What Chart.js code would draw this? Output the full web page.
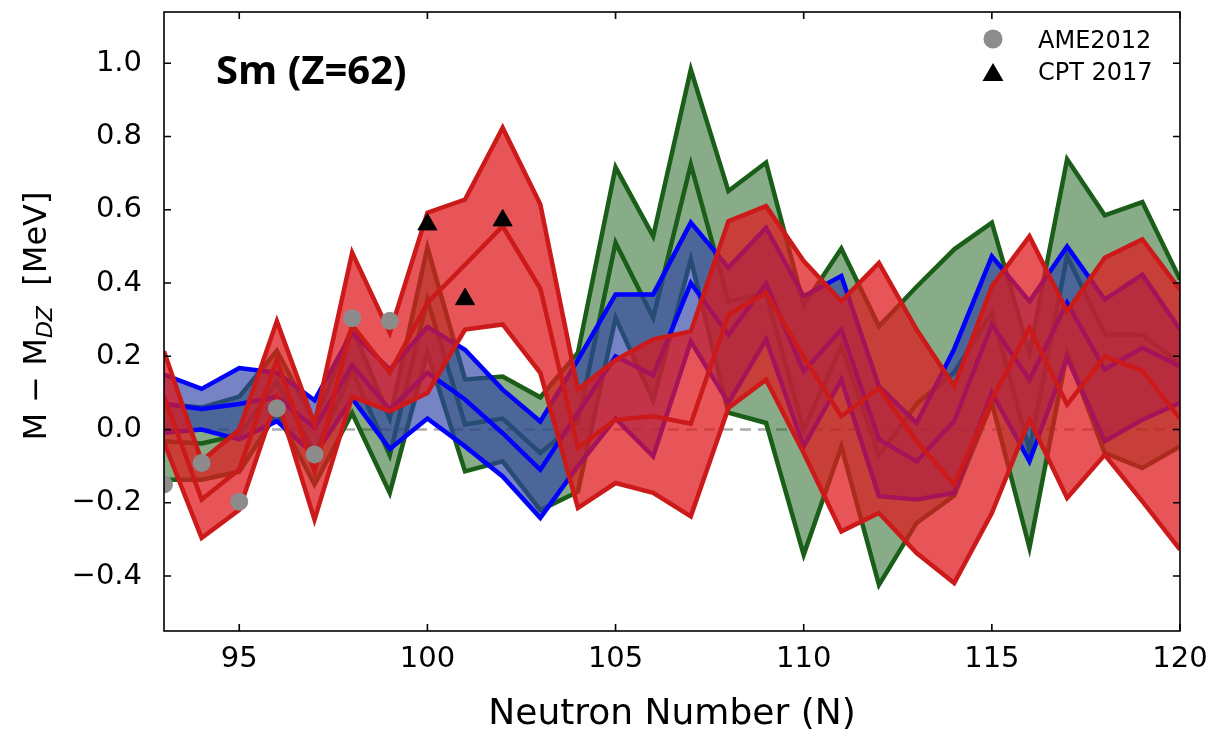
<!DOCTYPE html>
<html><head><meta charset="utf-8">
<script src="https://cdn.jsdelivr.net/npm/chart.js@4.4.1/dist/chart.umd.min.js"></script>
<style>html,body{margin:0;padding:0;background:#fff;overflow:hidden}</style>
</head><body>
<canvas id="c" width="1217" height="729"></canvas>
<script>
// ---- data ----
const N = [93,94,95,96,97,98,99,100,101,102,103,104,105,106,107,108,109,110,111,112,113,114,115,116,117,118,119,120];

const GREEN_UP  = [0.07, 0.06, 0.09, 0.215, 0.02, 0.28, 0.03, 0.497, 0.137, 0.145, 0.088, 0.21, 0.716, 0.528, 0.983, 0.651, 0.729, 0.34, 0.494, 0.282, 0.39, 0.492, 0.565, 0.209, 0.738, 0.585, 0.621, 0.41];
const GREEN_MID = [-0.032, -0.038, -0.015, 0.13, -0.065, 0.16, -0.07, 0.355, 0.014, 0.03, -0.064, 0.02, 0.51, 0.305, 0.724, 0.35, 0.37, 0.0, 0.228, -0.071, 0.07, 0.156, 0.319, -0.057, 0.474, 0.26, 0.258, 0.18];
const GREEN_LO  = [-0.137, -0.137, -0.115, 0.045, -0.15, 0.045, -0.173, 0.21, -0.114, -0.087, -0.22, -0.17, 0.305, 0.08, 0.465, 0.046, 0.018, -0.342, -0.046, -0.424, -0.255, -0.18, 0.073, -0.323, 0.21, -0.064, -0.105, -0.046];

const BLUE_UP  = [0.15, 0.111, 0.168, 0.155, 0.08, 0.265, 0.164, 0.28, 0.218, 0.109, 0.022, 0.19, 0.369, 0.369, 0.565, 0.442, 0.551, 0.364, 0.419, 0.118, 0.018, 0.22, 0.473, 0.35, 0.5, 0.355, 0.423, 0.273];
const BLUE_MID = [0.07, 0.056, 0.07, 0.089, 0.005, 0.175, 0.055, 0.155, 0.082, -0.01, -0.11, 0.045, 0.2, 0.148, 0.40, 0.258, 0.398, 0.159, 0.273, -0.027, -0.087, 0.023, 0.287, 0.136, 0.346, 0.164, 0.223, 0.173];
const BLUE_LO  = [-0.009, 0.0, -0.027, 0.023, -0.07, 0.085, -0.053, 0.03, -0.046, -0.128, -0.241, -0.1, 0.03, -0.073, 0.24, 0.073, 0.246, -0.046, 0.136, -0.182, -0.191, -0.173, 0.1, -0.087, 0.196, -0.032, 0.027, 0.073];

const RED_UP  = [0.214, -0.086, 0.0, 0.296, 0.015, 0.483, 0.264, 0.592, 0.628, 0.824, 0.615, 0.109, 0.19, 0.246, 0.268, 0.569, 0.61, 0.46, 0.35, 0.455, 0.273, 0.118, 0.391, 0.528, 0.323, 0.469, 0.519, 0.382];
const RED_MID = [0.09, -0.191, -0.109, 0.191, -0.115, 0.285, 0.155, 0.346, 0.45, 0.555, 0.385, -0.05, 0.027, 0.036, 0.016, 0.314, 0.373, 0.198, 0.036, 0.113, -0.032, -0.15, 0.082, 0.278, 0.068, 0.2, 0.16, 0.03];
const RED_LO  = [-0.035, -0.296, -0.219, 0.086, -0.246, 0.09, 0.05, 0.10, 0.273, 0.287, 0.155, -0.214, -0.146, -0.173, -0.237, 0.059, 0.136, -0.064, -0.278, -0.228, -0.337, -0.419, -0.228, 0.027, -0.187, -0.069, -0.196, -0.328];

const AME_N   = [93, 94, 95, 96, 97, 98, 99];
const AME_VAL = [-0.15, -0.091, -0.197, 0.058, -0.068, 0.304, 0.297];
const CPT_N   = [100, 101, 102];
const CPT_VAL = [0.56, 0.356, 0.571];

const X_TICKS = [95, 100, 105, 110, 115, 120];
const X_TICK_LABELS = ['95', '100', '105', '110', '115', '120'];
const Y_TICKS = [-0.4, -0.2, 0.0, 0.2, 0.4, 0.6, 0.8, 1.0];
const Y_TICK_LABELS = ['\u22120.4', '\u22120.2', '0.0', '0.2', '0.4', '0.6', '0.8', '1.0'];
const ZERO_REF = 0;

// ---- styles ----
const C_GREEN = '#1a5e1a', F_GREEN = 'rgba(26,94,26,0.52)';
const C_BLUE = '#0000ff',  F_BLUE = 'rgba(45,65,165,0.65)';
const C_RED = '#cc1a1a',   F_RED = 'rgba(222,25,30,0.74)';

const pts = (xs, ys) => xs.map((v, i) => ({x: v, y: ys[i]}));
function band(data, color, order, fillTarget, fillColor) {
  return {
    type: 'line', data: data, borderColor: color, borderWidth: 4.5, pointRadius: 0,
    tension: 0, order: order, clip: 0,
    fill: fillTarget === null ? false : fillTarget,
    backgroundColor: fillColor || 'rgba(0,0,0,0)'
  };
}

const datasets = [
  band(pts(N, RED_UP), C_RED, 1, null),          // 0
  band(pts(N, RED_MID), C_RED, 2, null),         // 1
  band(pts(N, RED_LO), C_RED, 3, 0, F_RED),      // 2
  band(pts(N, BLUE_UP), C_BLUE, 4, null),        // 3
  band(pts(N, BLUE_MID), C_BLUE, 5, null),       // 4
  band(pts(N, BLUE_LO), C_BLUE, 6, 3, F_BLUE),   // 5
  band(pts(N, GREEN_UP), C_GREEN, 7, null),      // 6
  band(pts(N, GREEN_MID), C_GREEN, 8, null),     // 7
  band(pts(N, GREEN_LO), C_GREEN, 9, 6, F_GREEN),// 8
  { type: 'scatter', label: 'AME2012', data: pts(AME_N, AME_VAL), pointRadius: 9, pointStyle: 'circle',
    backgroundColor: '#8c8c8c', borderColor: '#8c8c8c', borderWidth: 0, order: 0, clip: 0 },
  { type: 'scatter', label: 'CPT 2017', data: pts(CPT_N, CPT_VAL), pointRadius: 11, pointStyle: 'triangle',
    backgroundColor: '#000', borderColor: '#000', borderWidth: 1, order: 0, clip: 0 }
];

const decor = {
  id: 'decor',
  beforeDatasetsDraw(chart) {
    const {ctx, chartArea: a, scales: {y}} = chart;
    ctx.save();
    ctx.beginPath(); ctx.rect(a.left, a.top, a.right - a.left, a.bottom - a.top); ctx.clip();
    ctx.strokeStyle = '#ababab'; ctx.lineWidth = 2.5; ctx.setLineDash([11, 7]);
    const py = y.getPixelForValue(ZERO_REF);
    ctx.beginPath(); ctx.moveTo(a.left, py); ctx.lineTo(a.right, py); ctx.stroke();
    ctx.restore();
  },
  afterDraw(chart) {
    const {ctx, chartArea: a, scales: {x, y}} = chart;
    ctx.save();
    ctx.strokeStyle = '#000'; ctx.lineWidth = 1.6;
    ctx.strokeRect(a.left, a.top, a.right - a.left, a.bottom - a.top);
    const L = 7;
    ctx.beginPath();
    X_TICKS.forEach(v => {
      const px = x.getPixelForValue(v);
      ctx.moveTo(px, a.bottom); ctx.lineTo(px, a.bottom - L);
      ctx.moveTo(px, a.top); ctx.lineTo(px, a.top + L);
    });
    Y_TICKS.forEach(v => {
      const py = y.getPixelForValue(v);
      ctx.moveTo(a.left, py); ctx.lineTo(a.left + L, py);
      ctx.moveTo(a.right, py); ctx.lineTo(a.right - L, py);
    });
    ctx.stroke();

    ctx.fillStyle = '#000';
    ctx.font = '36px "DejaVu Sans"'; ctx.textAlign = 'center'; ctx.textBaseline = 'alphabetic';
    ctx.fillText('Neutron Number (N)', (a.left + a.right) / 2, 724);

    ctx.save();
    ctx.translate(46, 316);
    ctx.rotate(-Math.PI / 2);
    ctx.textAlign = 'left';
    const parts = [['M \u2212 M', '32px "DejaVu Sans"', 0], ['DZ', 'italic 22px "DejaVu Sans"', 6], ['  [MeV]', '32px "DejaVu Sans"', 0]];
    let total = 0;
    parts.forEach(p => { ctx.font = p[1]; total += ctx.measureText(p[0]).width; });
    let cx = -total / 2;
    parts.forEach(p => { ctx.font = p[1]; ctx.fillText(p[0], cx, p[2]); cx += ctx.measureText(p[0]).width; });
    ctx.restore();

    ctx.font = 'bold 40px "Open Sans"'; ctx.textAlign = 'left';
    ctx.fillText('Sm (Z=62)', 216, 84);

    ctx.fillStyle = '#8c8c8c';
    ctx.beginPath(); ctx.arc(993, 39, 9.5, 0, Math.PI * 2); ctx.fill();
    ctx.fillStyle = '#000';
    ctx.beginPath(); ctx.moveTo(993, 63); ctx.lineTo(1003.5, 81); ctx.lineTo(982.5, 81); ctx.closePath(); ctx.fill();
    ctx.font = '24px "DejaVu Sans"';
    ctx.fillText('AME2012', 1038, 48);
    ctx.fillText('CPT 2017', 1038, 80);
    ctx.restore();
  }
};

new Chart(document.getElementById('c'), {
  data: { datasets: datasets },
  options: {
    animation: false, responsive: false, devicePixelRatio: 1, events: [],
    layout: { padding: { left: 0, right: 37, top: 12, bottom: 0 } },
    plugins: { legend: { display: false }, tooltip: { enabled: false } },
    scales: {
      x: {
        type: 'linear', min: 93, max: 120,
        grid: { display: false, drawTicks: false }, border: { display: false },
        afterBuildTicks: s => { s.ticks = X_TICKS.map(v => ({value: v})); },
        afterFit: s => { s.height = 98; s.paddingLeft = 0; s.paddingRight = 0; s.paddingTop = 0; s.paddingBottom = 0; },
        ticks: { padding: 11, color: '#000', autoSkip: false, maxRotation: 0,
          font: { family: 'DejaVu Sans', size: 29 },
          callback: v => X_TICK_LABELS[X_TICKS.indexOf(v)] }
      },
      y: {
        type: 'linear', min: -0.55, max: 1.14,
        grid: { display: false, drawTicks: false }, border: { display: false },
        afterBuildTicks: s => { s.ticks = Y_TICKS.map(v => ({value: v})); },
        afterFit: s => { s.width = 164; s.paddingTop = 0; s.paddingBottom = 0; s.paddingLeft = 0; s.paddingRight = 0; },
        ticks: { padding: 22, color: '#000', autoSkip: false,
          font: { family: 'DejaVu Sans', size: 29 },
          callback: v => Y_TICK_LABELS[Y_TICKS.findIndex(t => Math.abs(t - v) < 1e-9)] }
      }
    }
  },
  plugins: [decor]
});
</script>
</body></html>
